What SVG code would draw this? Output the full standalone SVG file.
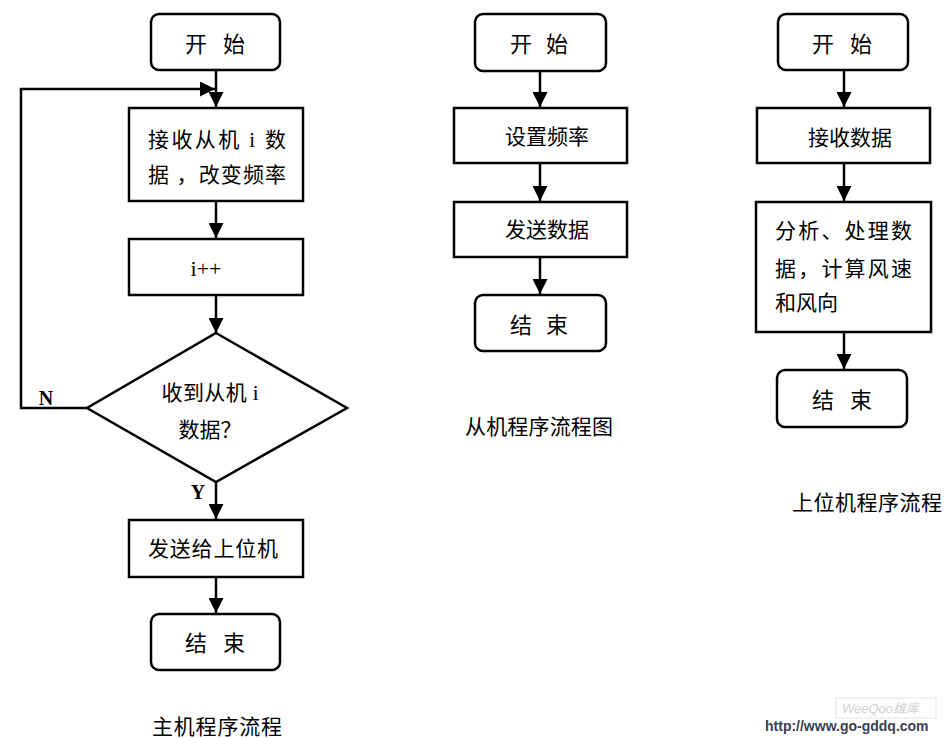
<svg xmlns="http://www.w3.org/2000/svg" width="945" height="738" viewBox="0 0 945 738">
<defs>
<marker id="ah" viewBox="0 0 14 14" refX="14" refY="7" markerWidth="15" markerHeight="15" markerUnits="userSpaceOnUse" orient="auto">
<path d="M0,0 L14,7 L0,14 z" fill="#000"/>
</marker>
<style>
.b{fill:#fff;stroke:#000;stroke-width:2.5}
.c{fill:none;stroke:#000;stroke-width:2.5}
.t{font-family:"Liberation Serif","Noto Sans CJK SC",serif;font-size:21px;fill:#000;text-anchor:middle;dominant-baseline:central}
.s{text-anchor:start}
.big{font-size:22px}
.lat{font-size:22px}
.yn{font-size:20px;font-weight:bold}
</style>
</defs>
<rect width="945" height="738" fill="#fff"/>

<g id="connectors">
<line class="c" x1="216" y1="71" x2="216" y2="107" marker-end="url(#ah)"/>
<polyline class="c" points="87,408 21,408 21,89 215,89" marker-end="url(#ah)"/>
<line class="c" x1="216" y1="201" x2="216" y2="238" marker-end="url(#ah)"/>
<line class="c" x1="216" y1="295" x2="216" y2="333" marker-end="url(#ah)"/>
<line class="c" x1="216" y1="482" x2="216" y2="519" marker-end="url(#ah)"/>
<line class="c" x1="216" y1="577" x2="216" y2="613" marker-end="url(#ah)"/>

<line class="c" x1="540" y1="71" x2="540" y2="107" marker-end="url(#ah)"/>
<line class="c" x1="540" y1="163" x2="540" y2="201" marker-end="url(#ah)"/>
<line class="c" x1="540" y1="257" x2="540" y2="294" marker-end="url(#ah)"/>

<line class="c" x1="844" y1="70" x2="844" y2="107" marker-end="url(#ah)"/>
<line class="c" x1="844" y1="163" x2="844" y2="201" marker-end="url(#ah)"/>
<line class="c" x1="844" y1="332" x2="844" y2="369" marker-end="url(#ah)"/>
</g>

<!-- main flow -->
<g id="m_start">
<rect class="b" x="151" y="14" width="129" height="56" rx="8"/>
<text class="t big" x="215" y="44" textLength="60" lengthAdjust="spacing">开 始</text>
</g>
<g id="m_recv">
<rect class="b" x="129" y="108" width="174" height="93"/>
<text class="t" x="217" y="140" textLength="138" lengthAdjust="spacing">接收从机 i 数</text>
<text class="t" x="217" y="175" textLength="138" lengthAdjust="spacing">据 ，改变频率</text>
</g>
<g id="m_inc">
<rect class="b" x="129" y="239" width="174" height="56"/>
<text class="t lat" x="206" y="268">i++</text>
</g>
<g id="m_dec">
<polygon class="b" points="216,333 347,408 216,482 87,408"/>
<text class="t" x="210" y="393" textLength="97" lengthAdjust="spacing">收到从机 i</text>
<text class="t" x="210" y="430">数据？</text>
<text class="t yn" x="46" y="398">N</text>
<text class="t yn" x="198" y="492">Y</text>
</g>
<g id="m_send">
<rect class="b" x="129" y="520" width="174" height="57"/>
<text class="t" x="213" y="549" textLength="130" lengthAdjust="spacing">发送给上位机</text>
</g>
<g id="m_end">
<rect class="b" x="151" y="614" width="129" height="56" rx="8"/>
<text class="t big" x="215" y="643" textLength="60" lengthAdjust="spacing">结 束</text>
</g>
<text class="t" x="217" y="727" textLength="130" lengthAdjust="spacing">主机程序流程</text>

<!-- slave flow -->
<g id="s_start">
<rect class="b" x="475" y="14" width="131" height="57" rx="8"/>
<text class="t big" x="539" y="44" textLength="58" lengthAdjust="spacing">开 始</text>
</g>
<g id="s_set">
<rect class="b" x="454" y="108" width="173" height="55"/>
<text class="t" x="547" y="137" textLength="84" lengthAdjust="spacing">设置频率</text>
</g>
<g id="s_send">
<rect class="b" x="454" y="202" width="173" height="55"/>
<text class="t" x="547" y="230" textLength="84" lengthAdjust="spacing">发送数据</text>
</g>
<g id="s_end">
<rect class="b" x="475" y="295" width="131" height="56" rx="8"/>
<text class="t big" x="539" y="325" textLength="58" lengthAdjust="spacing">结 束</text>
</g>
<text class="t" x="539" y="427" textLength="148" lengthAdjust="spacing">从机程序流程图</text>

<!-- host flow -->
<g id="h_start">
<rect class="b" x="778" y="14" width="130" height="56" rx="8"/>
<text class="t big" x="842" y="44" textLength="60" lengthAdjust="spacing">开 始</text>
</g>
<g id="h_recv">
<rect class="b" x="757" y="108" width="173" height="55"/>
<text class="t" x="850" y="138" textLength="84" lengthAdjust="spacing">接收数据</text>
</g>
<g id="h_proc">
<rect class="b" x="756" y="202" width="175" height="130"/>
<text class="t s" x="775" y="231" textLength="137" lengthAdjust="spacing">分析、处理数</text>
<text class="t s" x="775" y="269" textLength="137" lengthAdjust="spacing">据，计算风速</text>
<text class="t s" x="775" y="303" textLength="63" lengthAdjust="spacing">和风向</text>
</g>
<g id="h_end">
<rect class="b" x="777" y="370" width="130" height="57" rx="8"/>
<text class="t big" x="842" y="400" textLength="60" lengthAdjust="spacing">结 束</text>
</g>
<text class="t s" x="792" y="503" textLength="150" lengthAdjust="spacing">上位机程序流程</text>

<!-- watermark -->
<rect x="836" y="698" width="100" height="20" fill="none" stroke="#e4e4e4" stroke-width="1"/>
<text x="842" y="713" font-family="Liberation Sans,'Noto Sans CJK SC',sans-serif" font-size="13" font-style="italic" fill="#d0d0d0">WeeQoo维库</text>
<text x="765" y="731" font-family="Liberation Sans,sans-serif" font-size="14" font-weight="bold" fill="#3a4150">http://www.go-gddq.com</text>
</svg>
